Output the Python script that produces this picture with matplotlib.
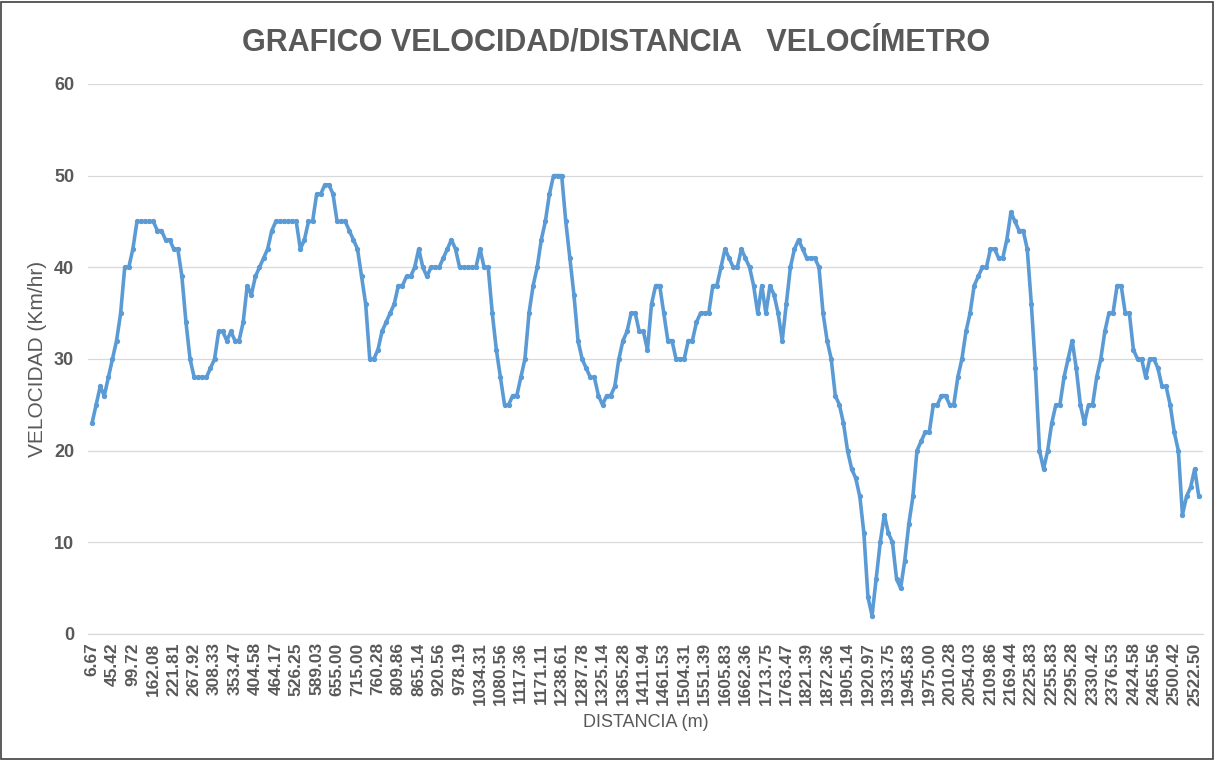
import matplotlib
matplotlib.use("Agg")
import matplotlib.pyplot as plt
from matplotlib.patches import Rectangle

# velocidad (km/h) por punto de medida, en orden
velocidad = [
    23, 25, 27, 26, 28, 30, 32, 35, 40, 40,
    42, 45, 45, 45, 45, 45, 44, 44, 43, 43,
    42, 42, 39, 34, 30, 28, 28, 28, 28, 29,
    30, 33, 33, 32, 33, 32, 32, 34, 38, 37,
    39, 40, 41, 42, 44, 45, 45, 45, 45, 45,
    45, 42, 43, 45, 45, 48, 48, 49, 49, 48,
    45, 45, 45, 44, 43, 42, 39, 36, 30, 30,
    31, 33, 34, 35, 36, 38, 38, 39, 39, 40,
    42, 40, 39, 40, 40, 40, 41, 42, 43, 42,
    40, 40, 40, 40, 40, 42, 40, 40, 35, 31,
    28, 25, 25, 26, 26, 28, 30, 35, 38, 40,
    43, 45, 48, 50, 50, 50, 45, 41, 37, 32,
    30, 29, 28, 28, 26, 25, 26, 26, 27, 30,
    32, 33, 35, 35, 33, 33, 31, 36, 38, 38,
    35, 32, 32, 30, 30, 30, 32, 32, 34, 35,
    35, 35, 38, 38, 40, 42, 41, 40, 40, 42,
    41, 40, 38, 35, 38, 35, 38, 37, 35, 32,
    36, 40, 42, 43, 42, 41, 41, 41, 40, 35,
    32, 30, 26, 25, 23, 20, 18, 17, 15, 11,
    4, 2, 6, 10, 13, 11, 10, 6, 5, 8,
    12, 15, 20, 21, 22, 22, 25, 25, 26, 26,
    25, 25, 28, 30, 33, 35, 38, 39, 40, 40,
    42, 42, 41, 41, 43, 46, 45, 44, 44, 42,
    36, 29, 20, 18, 20, 23, 25, 25, 28, 30,
    32, 29, 25, 23, 25, 25, 28, 30, 33, 35,
    35, 38, 38, 35, 35, 31, 30, 30, 28, 30,
    30, 29, 27, 27, 25, 22, 20, 13, 15, 16,
    18, 15,
]

# distancias que se ven en el eje (una de cada 5 categorias)
dist_labels = [
    "6.67", "45.42", "99.72", "162.08", "221.81", "267.92", "308.33", "353.47",
    "404.58", "464.17", "526.25", "589.03", "655.00", "715.00", "760.28",
    "809.86", "865.14", "920.56", "978.19", "1034.31", "1080.56", "1117.36",
    "1171.11", "1238.61", "1287.78", "1325.14", "1365.28", "1411.94",
    "1461.53", "1504.31", "1551.39", "1605.83", "1662.36", "1713.75",
    "1763.47", "1821.39", "1872.36", "1905.14", "1920.97", "1933.75",
    "1945.83", "1975.00", "2010.28", "2054.03", "2109.86", "2169.44",
    "2225.83", "2255.83", "2295.28", "2330.42", "2376.53", "2424.58",
    "2465.56", "2500.42", "2522.50",
]
label_step = 5
y_ticks = [0, 10, 20, 30, 40, 50, 60]

BLUE, GREY, GRID = "#5b9bd5", "#595959", "#d9d9d9"
plt.rcParams["font.family"] = ["Liberation Sans", "DejaVu Sans"]

fig = plt.figure(figsize=(12.15, 7.6), dpi=100)
ax = fig.add_axes([0.0724, 0.1658, 0.9176, 0.7237])

x = list(range(len(velocidad)))
ax.plot(x, velocidad, color=BLUE, lw=2.6, marker="o", ms=2.8, mec=BLUE, mfc=BLUE)

ax.set_xlim(-1, len(velocidad))
ax.set_ylim(0, 60)
ax.set_yticks(y_ticks)
ax.set_yticklabels([str(v) for v in y_ticks], fontsize=13, fontweight="bold", color=GREY)
ax.set_xticks(range(0, label_step * len(dist_labels), label_step))
ax.set_xticklabels(dist_labels, rotation=90, fontsize=12.5, fontweight="bold", color=GREY)
ax.tick_params(axis="x", length=0, pad=6)
ax.tick_params(axis="y", length=0, pad=10)

ax.grid(True, axis="y", color=GRID, lw=0.9)
ax.set_axisbelow(True)
for s in ("top", "right", "left"):
    ax.spines[s].set_visible(False)
ax.spines["bottom"].set_color(GRID)
ax.spines["bottom"].set_linewidth(0.9)

ax.set_ylabel("VELOCIDAD (Km/hr)", fontsize=15, color=GREY, labelpad=5)
ax.set_xlabel("DISTANCIA (m)", fontsize=13, color=GREY, labelpad=6)
fig.text(0.507, 0.944, "GRAFICO VELOCIDAD/DISTANCIA   VELOCÍMETRO", ha="center", va="center",
         fontsize=22, fontweight="bold", color=GREY)

fig.patches.append(Rectangle((0.001, 0.001), 0.997, 0.997, transform=fig.transFigure,
                             fill=False, edgecolor="#404040", lw=1.2))

fig.savefig("out.png", dpi=100)
